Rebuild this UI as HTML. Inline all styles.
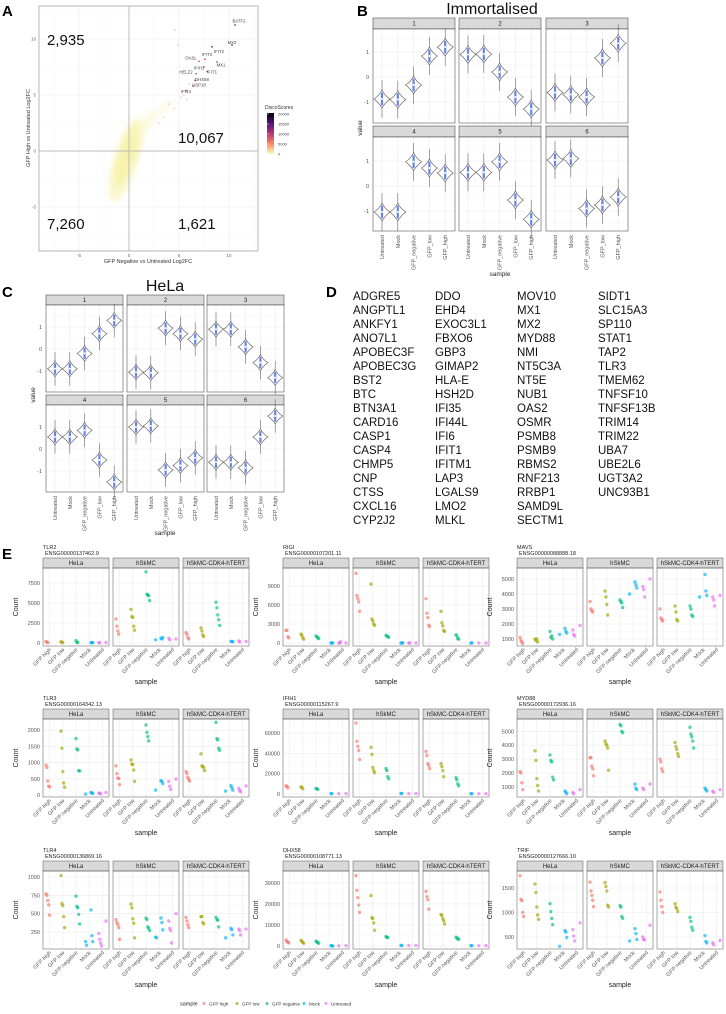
<!DOCTYPE html>
<html><head><meta charset="utf-8">
<style>
html,body{margin:0;padding:0;background:#fff;}
svg{display:block;font-family:"Liberation Sans",sans-serif;}
.d{font-family:"Liberation Sans",sans-serif;font-size:11.5px;fill:#111;}
</style></head>
<body>
<svg id="fig" width="726" height="1014" viewBox="0 0 726 1014" xmlns="http://www.w3.org/2000/svg">
<defs>
<filter id="blur" x="-50%" y="-50%" width="200%" height="200%"><feGaussianBlur stdDeviation="3"/></filter>
<linearGradient id="magma" x1="0" y1="1" x2="0" y2="0">
<stop offset="0" stop-color="#fcfdbf"/><stop offset="0.25" stop-color="#fc8961"/><stop offset="0.5" stop-color="#b73779"/><stop offset="0.75" stop-color="#51127c"/><stop offset="1" stop-color="#000004"/></linearGradient>
</defs>
</svg>
<script>
// ---------- Panel A data ----------
const aGenes = ["BATF2","MX2","IFIT2","IFIT3","OASL","MX1","IFIH1","IFIT1","HELZ2","DHX58","USP18","IFI44"];
const aX = [10.6,10.3,8.3,7.6,7.0,8.8,7.5,7.8,6.7,6.6,6.4,5.7];
const aY = [11.25,9.46,9.3,8.2,8.0,7.95,7.5,7.1,6.9,6.3,5.8,5.4];
const aLabelX = [11.0,10.3,9.0,7.8,6.2,9.2,7.0,8.3,5.7,7.3,7.0,5.7];
const aLabelY = [11.6,9.7,8.9,8.6,8.3,7.7,7.4,7.05,7.05,6.4,5.9,5.3];
const aTailX = [4.6,4.9,5.2,4.5,3.5,5.5,6.0,3.0,4.0,5.8];
const aTailY = [10.8,9.5,4.8,3.8,3.0,5.0,6.0,2.5,4.2,4.6];
const aTicksX = [-5,0,5,10];
const aTicksY = [-5,0,5,10];
const aCounts = ["2,935","10,067","7,260","1,621"];
const legendTicks = [0,5000,10000,15000,20000];

// ---------- Panel B / C violin data ----------
const cats = ["Untreated","Mock","GFP_negative","GFP_low","GFP_high"];
const bVals = [[-0.88,-0.9,-0.32,0.84,1.2],[0.9,0.92,0.2,-0.8,-1.28],[-0.62,-0.7,-0.8,0.76,1.35],
               [-1.04,-1.04,0.97,0.72,0.52],[0.55,0.55,0.97,-0.56,-1.33],[1.04,1.1,-0.9,-0.76,-0.44]];
const cVals = [[-0.9,-0.9,-0.2,0.7,1.3],[-1.05,-1.08,0.95,0.7,0.45],[0.9,0.9,0.1,-0.62,-1.3],
               [0.55,0.55,0.85,-0.5,-1.5],[1.0,1.05,-0.95,-0.75,-0.4],[-0.6,-0.6,-0.85,0.55,1.5]];
const vTicks = [-1,0,1];

// ---------- Panel D ----------
const dGenes = ["ADGRE5","ANGPTL1","ANKFY1","ANO7L1","APOBEC3F","APOBEC3G","BST2","BTC","BTN3A1","CARD16","CASP1","CASP4","CHMP5","CNP","CTSS","CXCL16","CYP2J2",
"DDO","EHD4","EXOC3L1","FBXO6","GBP3","GIMAP2","HLA-E","HSH2D","IFI35","IFI44L","IFI6","IFIT1","IFITM1","LAP3","LGALS9","LMO2","MLKL",
"MOV10","MX1","MX2","MYD88","NMI","NT5C3A","NT5E","NUB1","OAS2","OSMR","PSMB8","PSMB9","RBMS2","RNF213","RRBP1","SAMD9L","SECTM1",
"SIDT1","SLC15A3","SP110","STAT1","TAP2","TLR3","TMEM62","TNFSF10","TNFSF13B","TRIM14","TRIM22","UBA7","UBE2L6","UGT3A2","UNC93B1"];

// ---------- Panel E data ----------
const eSamples = ["GFP high","GFP low","GFP negative","Mock","Untreated"];
const eCells = ["HeLa","hSkMC","hSkMC-CDK4-hTERT"];
const eGenes = ["TLR2","RIGI","MAVS","TLR3","IFIH1","MYD88","TLR4","DHX58","TRIF"];
const eIds = ["ENSG00000137462.9","ENSG00000107201.11","ENSG00000088888.18","ENSG00000164342.13","ENSG00000115267.9","ENSG00000172936.16","ENSG00000136869.16","ENSG00000108771.13","ENSG00000127666.10"];
const eLo = [-375,-474,533,-62,-3000,270,18,-1430,255];
const eHi = [9375,11842,5733,2344,74000,5890,1082,35700,1847];
const eTicks = [[0,2500,5000,7500],[0,3000,6000,9000],[1000,2000,3000,4000,5000],[0,500,1000,1500,2000],[0,20000,40000,60000],[1000,2000,3000,4000,5000],[250,500,750,1000],[0,10000,20000,30000],[500,1000,1500]];
const tlr2 = [[[200,100,50],[150,100,50],[300,100,50],[50,50,30],[50,40,30]],
 [[3000,2100,1500,1100],[4200,3300,3200,2100,1600],[8900,6100,6000,5900,5300],[600,500,700,400],[500,600,400]],
 [[1300,1100,700,500],[1900,1500,1000,800],[5100,4400,3500,2900,2200],[200,200,150],[200,250,150]]];
const rigi = [[[2000,2000,1000,800],[1400,1200,800,600],[1100,1000,800,700],[0,0,0],[0,0,0,200]],
 [[11000,7500,7000,6500,5000],[9300,3800,3500,3000,2800],[1200,1100,1000,900],[0,0,0],[0,0,0]],
 [[7000,4700,4000,2800,2600],[5000,3200,2700,2000,1800],[1300,1100,700,600],[0,0],[0,0]]];
const mavs = [[[1100,900,800,700],[1000,900,1000,800],[1500,1100,1200,1000],[1700,1500,1400,1300],[1900,1600,1300,1200]],
 [[3500,3000,2900,2800],[4200,3800,3300,2600],[3600,3500,3400,3100],[4800,4600,4400,4000],[5000,4500,4300,3800]],
 [[3000,2400,2300,2200],[3200,2800,2300,2200],[3200,3000,2600,2500],[5300,4200,3900,3800],[3900,3800,3600,3200]]];
const tlr3 = [[[920,850,430,270,250],[1970,1440,720,370,240],[1740,1420,1390,750,740],[80,60,50,30],[80,60,50,40]],
 [[900,660,520,510,320],[1080,950,940,770,420],[2160,1930,1800,1670],[440,420,350,150],[490,420,270,170]],
 [[720,660,540,480,430],[1270,900,880,840,750],[2240,1740,1700,1440,1380],[290,220,150,120],[280,200,140,100]]];
const ifih1 = [[[8000,7500,6000],[7000,6500,5000],[5500,5000,4500],[500,300],[400,300]],
 [[70000,52000,47000,43000,34000],[46000,39000,26000,23000,21000],[25000,23000,17000,15000],[500,400],[500,300]],
 [[42000,38000,30000,28000,25000],[30000,27000,23000,17000],[16000,14000,10000,8000],[300,200],[300,200]]];
const myd88 = [[[2100,2000,1300,800],[3600,2900,1600,1100,700],[3300,2900,2800,1700,1500],[700,600,500],[800,600,500]],
 [[3100,3100,2500,2300,1800],[4300,4100,4000,3800,2200],[5500,5400,5000,4900],[1200,900,800],[1200,900,800]],
 [[3000,2800,2300,2100],[4200,3900,3700,3400,3200],[5300,4800,4600,4300,3800],[900,800,700],[800,700,600]]];
const tlr4 = [[[770,750,680,620,480],[1020,640,610,460,310],[740,600,580,490,360],[550,200,120,120,70],[400,230,150,100,60]],
 [[420,380,350,310,150],[630,580,430,370,170],[440,420,320,300,270],[440,380,280,180,170],[500,400,300,270,100]],
 [[450,400,350,310],[460,460,380,360],[450,420,410,320],[300,280,210,170],[290,290,270,210]]];
const dhx58 = [[[2800,2200,1800,1500],[2700,2200,1700,1300],[2300,1900,1600,1300],[200,100,0],[200,100]],
 [[33500,26500,23000,19500,16000],[24000,13500,13000,11000,7500],[4500,4200,4000],[300,200],[300,200]],
 [[26000,23500,22000,17500],[15000,14500,13000,12000,10500],[4200,3800,3400,3200],[200,150],[200,150]]];
const trif = [[[1750,1270,1240,1000,920],[1580,1410,1110,950,860],[1180,1020,880,750],[630,600,490,310],[790,650,520,420]],
 [[1620,1440,1350,1250,1120],[1610,1530,1440,1150,1110],[1140,1110,920,880],[670,570,450,420],[740,500,450,440]],
 [[1420,1250,1120,1000],[1180,1110,1080,1020],[900,820,700,640],[530,410,380],[430,380,340]]];
const eData = [tlr2,rigi,mavs,tlr3,ifih1,myd88,tlr4,dhx58,trif];

const NS = "http://www.w3.org/2000/svg";
const svg = document.getElementById("fig");
const COLORS = ["#F8766D","#A3A500","#00BF7D","#00B0F6","#E76BF3"];
function mk(tag, attrs, parent){ const e=document.createElementNS(NS,tag); for(const k in attrs) e.setAttribute(k,attrs[k]); (parent||svg).appendChild(e); return e; }
function txt(s, attrs, parent){ const e=mk("text",attrs,parent); e.textContent=s; return e; }
function grp(parent){ return mk("g",{},parent); }

// ===== Panel A =====
(function(){
  const g = grp();
  
  
  const L=39,R=258,T=6,B=251;
  const sx = v => 129 + 10*v, sy = v => 151 - 11.2*v;
  const lt = txt("A",{x:2,y:16,"font-size":15,"font-weight":"bold"},g);
  
  
  for(let v=-7.5; v<=12.5; v+=5){ mk("line",{x1:sx(v),x2:sx(v),y1:T,y2:B,stroke:"#f4f4f4","stroke-width":0.5},g); mk("line",{x1:L,x2:R,y1:sy(v),y2:sy(v),stroke:"#f4f4f4","stroke-width":0.5},g); }
  aTicksX.forEach(v=>{ mk("line",{x1:sx(v),x2:sx(v),y1:T,y2:B,stroke:"#ebebeb","stroke-width":0.6},g);
    const t=txt(String(v),{x:sx(v),y:B+6,"font-size":4.5,fill:"#666","text-anchor":"middle"},g);
    
     });
  aTicksY.forEach(v=>{ mk("line",{x1:L,x2:R,y1:sy(v),y2:sy(v),stroke:"#ebebeb","stroke-width":0.6},g);
    const t=txt(String(v),{x:L-3,y:sy(v)+1.5,"font-size":4.5,fill:"#666","text-anchor":"end"},g);
    
     });
  const cloud = grp(g);
  
  
  mk("ellipse",{cx:126,cy:160,rx:12,ry:44,transform:"rotate(18 126 160)",fill:"#f9f6c6",opacity:0.85,filter:"url(#blur)"},cloud);
  mk("ellipse",{cx:127,cy:155,rx:8,ry:32,transform:"rotate(18 127 155)",fill:"#f7f2a8",opacity:0.9,filter:"url(#blur)"},cloud);
  mk("ellipse",{cx:145,cy:125,rx:5,ry:18,transform:"rotate(35 145 125)",fill:"#fbf8d2",opacity:0.7,filter:"url(#blur)"},cloud);
  mk("ellipse",{cx:165,cy:108,rx:3,ry:12,transform:"rotate(45 165 108)",fill:"#fcf3d4",opacity:0.6,filter:"url(#blur)"},cloud);
  aTailX.forEach((v,i)=>{ const c=mk("circle",{cx:sx(v),cy:sy(aTailY[i]),r:0.8,fill:"#fdb47d",opacity:0.8},g);
    
     });
  mk("line",{x1:sx(0),x2:sx(0),y1:T,y2:B,stroke:"#bdbdbd","stroke-width":1},g);
  mk("line",{x1:L,x2:R,y1:sy(0),y2:sy(0),stroke:"#bdbdbd","stroke-width":1},g);
  aGenes.forEach((n,i)=>{ const c=mk("circle",{cx:sx(aX[i]),cy:sy(aY[i]),r:0.9,fill:i<3?"#6a2c8a":"#c8508a"},g);
    
    
    const t=txt(n,{x:sx(aLabelX[i]),y:sy(aLabelY[i])+1.5,"font-size":4.3,fill:"#444","text-anchor":"middle"},g);
    
     });
  mk("rect",{x:L,y:T,width:R-L,height:B-T,fill:"none",stroke:"#999","stroke-width":0.7},g);
  const cp=[[47,45,"start"],[178,143,"start"],[47,229,"start"],[178,229,"start"]];
  aCounts.forEach((s,i)=>{ const t=txt(s,{x:cp[i][0],y:cp[i][1],"font-size":15,fill:"#111"},g);
    
     });
  const xl=txt("GFP Negative vs Untreated Log2FC",{x:148,y:263,"font-size":5.5,fill:"#333","text-anchor":"middle"},g);
  
  
  const yl=txt("GFP High vs Untreated Log2FC",{x:0,y:0,"font-size":5.5,fill:"#333","text-anchor":"middle",transform:"translate(30 128) rotate(-90)"},g);
  
  
  const lg=grp(g);
  
  
  txt("DiscoScores",{x:265,y:109,"font-size":5,fill:"#333"},lg);
  mk("rect",{x:267,y:113,width:7,height:41,fill:"url(#magma)"},lg);
  legendTicks.forEach(v=>{ const y=154-v/20000*40; txt(String(v),{x:278,y:y+1.5,"font-size":4,fill:"#444"},lg); mk("line",{x1:267,x2:269,y1:y,y2:y,stroke:"#fff","stroke-width":0.5},lg);});
})();

// ===== Violin panels =====
function violinPanel(opts){
  const g=grp();
  
  
  const lt=txt(opts.letter,{x:opts.lx,y:opts.ly,"font-size":15,"font-weight":"bold"},g);
  
  
  const tt=txt(opts.title,{x:opts.tx,y:opts.ty,"font-size":16,"text-anchor":"middle",fill:"#111"},g);
  
  
  for(let f=0;f<6;f++){
    const col=f%3,row=Math.floor(f/3);
    const x0=opts.cols[col], st=opts.rows[row], pt=st+opts.sh, pb=pt+opts.ph, w=opts.fw;
    const zero=opts.zero[row], u=opts.unit;
    const vy=v=>zero-v*u;
    const strip=mk("rect",{x:x0,y:st,width:w,height:opts.sh,fill:"#d9d9d9",stroke:"#333","stroke-width":0.5},g);
    
    
    txt(String(f+1),{x:x0+w/2,y:st+opts.sh/2+2,"font-size":6,fill:"#222","text-anchor":"middle"},g);
    mk("rect",{x:x0,y:pt,width:w,height:opts.ph,fill:"#fff"},g);
    [-1.5,-0.5,0.5,1.5].forEach(v=>{ if(vy(v)>pt&&vy(v)<pb) mk("line",{x1:x0,x2:x0+w,y1:vy(v),y2:vy(v),stroke:"#f3f3f3","stroke-width":0.4},g); });
    vTicks.forEach(v=>{ mk("line",{x1:x0,x2:x0+w,y1:vy(v),y2:vy(v),stroke:"#ebebeb","stroke-width":0.6},g);
      if(col===0){ const t=txt(String(v),{x:x0-4,y:vy(v)+2,"font-size":5.5,fill:"#555","text-anchor":"end"},g);
        
         } });
    cats.forEach((c,i)=>{
      const cx=x0+opts.cx0+i*opts.cdx;
      mk("line",{x1:cx,x2:cx,y1:pt,y2:pb,stroke:"#ebebeb","stroke-width":0.6},g);
      const val=opts.vals[f][i], cy=vy(val), hw=opts.vw, hh=opts.vh;
      const tail=mk("line",{x1:cx,x2:cx,y1:cy-hh*2.1,y2:cy+hh*2.1,stroke:"#666","stroke-width":0.6},g);
      
      
      const p=mk("path",{d:`M${cx},${cy-hh} Q${cx+hw*0.35},${cy-hh*0.35} ${cx+hw},${cy} Q${cx+hw*0.35},${cy+hh*0.45} ${cx},${cy+hh} Q${cx-hw*0.35},${cy+hh*0.45} ${cx-hw},${cy} Q${cx-hw*0.35},${cy-hh*0.35} ${cx},${cy-hh} Z`,fill:"#fff","fill-opacity":0.85,stroke:"#555","stroke-width":0.6},g);
      
      
      mk("rect",{x:cx-1.1,y:cy-hh*0.7,width:2.2,height:hh*1.4,fill:"#4f6fe0",opacity:0.85},g);
      mk("circle",{cx:cx,cy:cy,r:1,fill:"#fff"},g);
      if(row===1){ const t=txt(c,{x:0,y:0,"font-size":5.5,fill:"#555","text-anchor":"end",transform:`translate(${cx+2} ${pb+4}) rotate(-90)`},g);
        
         }
    });
    mk("rect",{x:x0,y:pt,width:w,height:opts.ph,fill:"none",stroke:"#333","stroke-width":0.5},g);
  }
  const xs=txt("sample",{x:opts.sx,y:opts.sy,"font-size":6.5,fill:"#222","text-anchor":"middle"},g);
  
  
  const ys=txt("value",{x:0,y:0,"font-size":6.5,fill:"#222","text-anchor":"middle",transform:`translate(${opts.vx} ${opts.vy}) rotate(-90)`},g);
  
  
}
violinPanel({name:"panel-b-immortalised",letter:"B",lx:357,ly:16,title:"Immortalised",tx:492,ty:14,cols:[373,459,546],rows:[18,126],sh:11,ph:94,fw:82,zero:[77,186],unit:25,cx0:9,cdx:15.8,vw:8,vh:9,vals:bVals,sx:500,sy:276,vx:362,vy:128});
violinPanel({name:"panel-c-hela",letter:"C",lx:2,ly:297,title:"HeLa",tx:165,ty:291,cols:[46,127,207],rows:[295,395],sh:10,ph:87,fw:77,zero:[349,449],unit:22,cx0:9,cdx:14.8,vw:7.5,vh:8,vals:cVals,sx:165,sy:535,vx:35,vy:395});

// ===== Panel D =====
(function(){
  const g=grp();
  
  
  const lt=txt("D",{x:326,y:297,"font-size":15,"font-weight":"bold"},g);
  
  
  const colX=[353,435,517,598], perCol=[17,17,17,15];
  let k=0;
  perCol.forEach((n,c)=>{ for(let r=0;r<n;r++){ const t=txt(dGenes[k++],{x:colX[c],y:300+r*14,class:"d"},g);
    
     } });
})();

// ===== Panel E =====
(function(){
  const g=grp();
  
  
  const lt=txt("E",{x:2,y:559,"font-size":15,"font-weight":"bold"},g);
  
  
  const colL=[43,283,517], rowT=[558,709,861], SH=10, PH=78, FW=66, FS=70;
  eGenes.forEach((gene,gi)=>{
    const gc=gi%3, gr=Math.floor(gi/3), L=colL[gc], st=rowT[gr], pt=st+SH, pb=pt+PH;
    const lo=eLo[gi], hi=eHi[gi];
    const vy=v=>pb-(v-lo)/(hi-lo)*PH;
    const pg=grp(g);
    
    
    const gt=txt(gene,{x:L,y:st-9,"font-size":5.5,fill:"#222"},pg);
    
    
    txt(eIds[gi],{x:L+2,y:st-3,"font-size":5.5,fill:"#222"},pg);
    eCells.forEach((cell,ci)=>{
      const x0=L+ci*FS;
      const s=mk("rect",{x:x0,y:st,width:FW,height:SH,fill:"#d9d9d9",stroke:"#555","stroke-width":0.5},pg);
      
      
      txt(cell,{x:x0+FW/2,y:st+SH/2+2.2,"font-size":6,fill:"#222","text-anchor":"middle"},pg);
      const ticks=eTicks[gi];
      for(let t=0;t<ticks.length;t++){
        const v=ticks[t]; mk("line",{x1:x0,x2:x0+FW,y1:vy(v),y2:vy(v),stroke:"#ebebeb","stroke-width":0.6},pg);
        if(t<ticks.length-1){ const m=(v+ticks[t+1])/2; mk("line",{x1:x0,x2:x0+FW,y1:vy(m),y2:vy(m),stroke:"#f5f5f5","stroke-width":0.4},pg); }
        if(ci===0){ const tl=txt(String(v),{x:x0-3,y:vy(v)+2,"font-size":5.5,fill:"#555","text-anchor":"end"},pg);
          
           }
      }
      eSamples.forEach((smp,si)=>{
        const cx=x0+FW*(si+0.5)/5;
        mk("line",{x1:cx,x2:cx,y1:pt,y2:pb,stroke:"#ebebeb","stroke-width":0.6},pg);
        eData[gi][ci][si].forEach((v,k)=>{
          const jx=((k*37+si*11)%9-4)*0.9;
          const c=mk("circle",{cx:cx+jx,cy:vy(v),r:1.7,fill:COLORS[si],"fill-opacity":0.65},pg);
          
          
        });
        const tl=txt(smp,{x:0,y:0,"font-size":5.5,fill:"#555","text-anchor":"end",transform:`translate(${cx+2} ${pb+4}) rotate(-45)`},pg);
        
        
      });
      mk("rect",{x:x0,y:pt,width:FW,height:PH,fill:"none",stroke:"#555","stroke-width":0.5},pg);
    });
    const xs=txt("sample",{x:L+FS+FW/2,y:pb+38,"font-size":7,fill:"#222","text-anchor":"middle"},pg);
    
    
    const ys=txt("Count",{x:0,y:0,"font-size":7,fill:"#222","text-anchor":"middle",transform:`translate(${L-25} ${pt+PH/2}) rotate(-90)`},pg);
    
    
  });
  const lg=grp(g);
  
  
  txt("sample",{x:180,y:1005.5,"font-size":5.5,fill:"#222"},lg);
  const dx=[204,237,267,304,326];
  eSamples.forEach((s,i)=>{ const c=mk("circle",{cx:dx[i],cy:1003.5,r:1.5,fill:COLORS[i],"fill-opacity":0.7},lg);
    
    
    txt(s,{x:dx[i]+5,y:1005.3,"font-size":4.6,fill:"#333"},lg); });
})();
</script>
</body></html>
